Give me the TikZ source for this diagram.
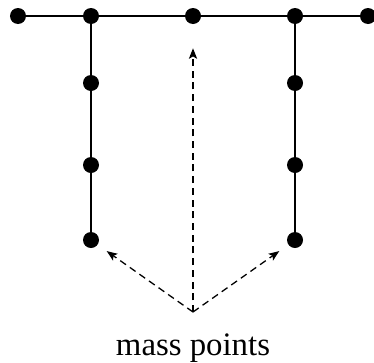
\documentclass[tikz,border=0pt]{standalone}
\usepackage{fontspec}
\setmainfont{Liberation Serif}
\usetikzlibrary{arrows.meta}
\tikzset{mass/.style={circle, fill, inner sep=0pt, minimum size=0.48cm},
  rod/.style={line width=1.4pt},
  pointer/.style={-{Stealth[length=9pt,width=7pt,inset=2pt]}, dashed, line width=1.1pt, dash pattern=on 6pt off 4pt}}

\begin{document}
\begin{tikzpicture}[x=0.03cm, y=-0.03cm]
\useasboundingbox (0,0) rectangle (374,362);
\node[mass] (t1) at (18,16) {};
\node[mass] (t2) at (91,16) {};
\node[mass] (t3) at (193,16) {};
\node[mass] (t4) at (295,16) {};
\node[mass] (t5) at (368,16) {};
\node[mass] (l2) at (91,83) {};
\node[mass] (l3) at (91,165) {};
\node[mass] (l4) at (91,240) {};
\node[mass] (r2) at (295,83) {};
\node[mass] (r3) at (295,165) {};
\node[mass] (r4) at (295,240) {};
\draw[rod] (t1) -- (t2) -- (t3) -- (t4) -- (t5);
\draw[rod] (t2) -- (l2) -- (l3) -- (l4);
\draw[rod] (t4) -- (r2) -- (r3) -- (r4);
\coordinate (src) at (193,312);
\draw[pointer, shorten >=0.72cm] (src) -- (t3);
\draw[pointer, shorten >=0.33cm] (src) -- (l4);
\draw[pointer, shorten >=0.33cm] (src) -- (r4);
\node[anchor=base, font=\fontsize{28}{34}\selectfont] (lbl) at (193,355) {mass points};
\end{tikzpicture}
\end{document}
